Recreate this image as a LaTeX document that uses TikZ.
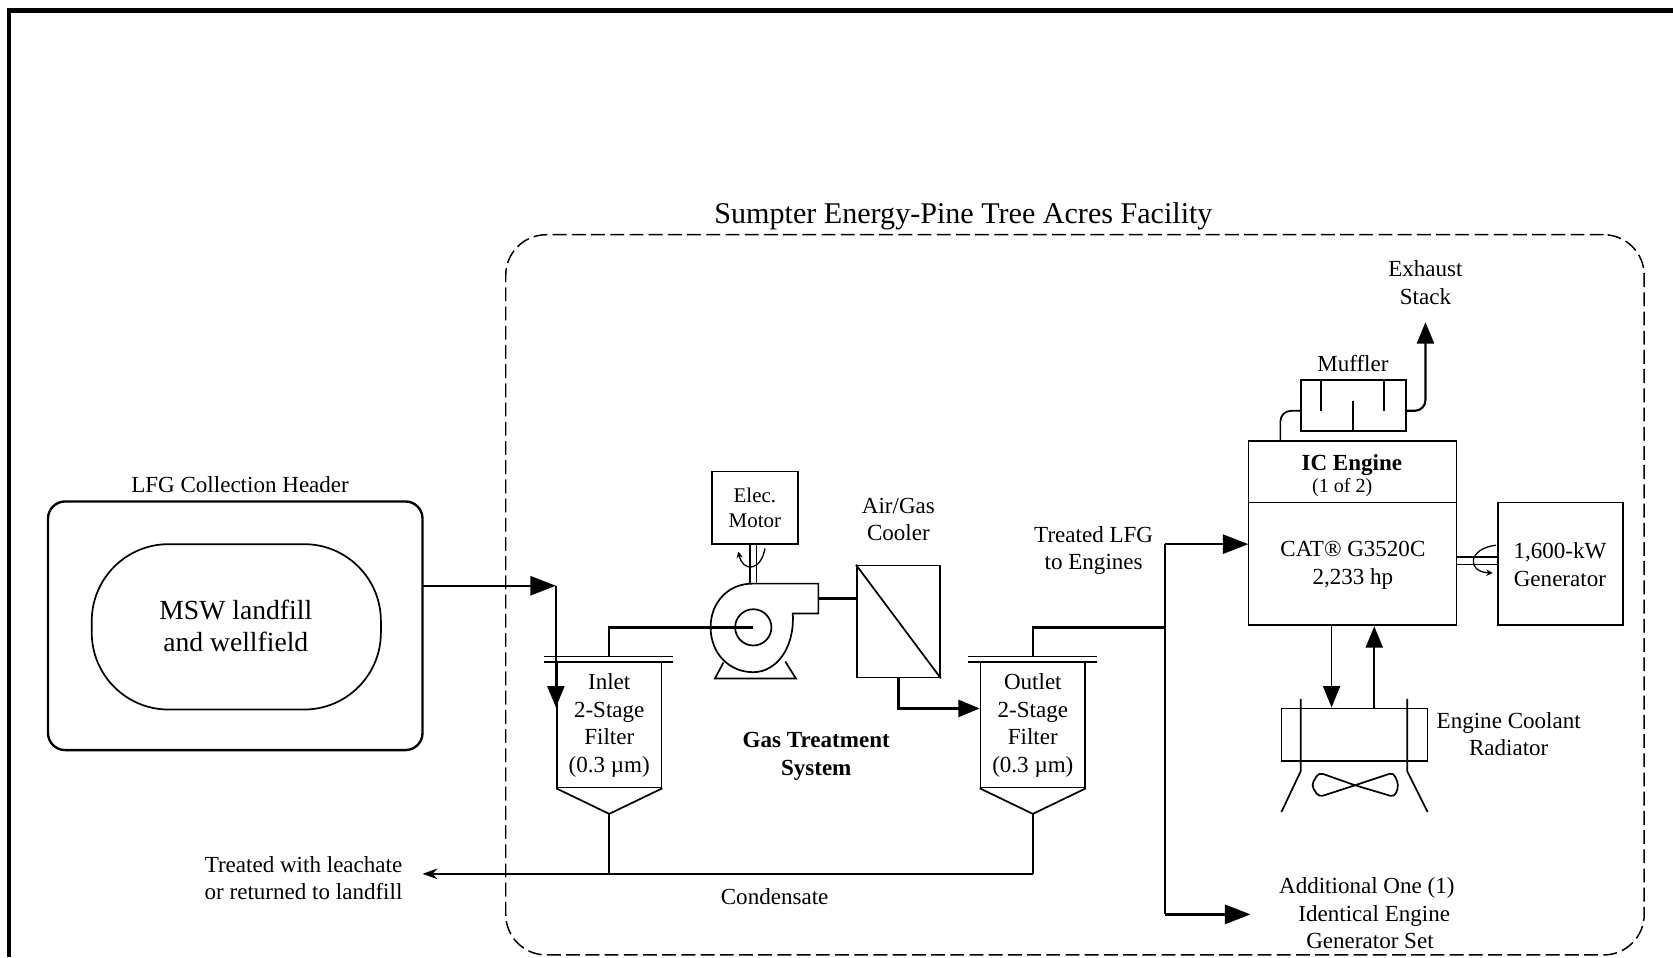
\documentclass[tikz,border=0pt]{standalone}
\usepackage{fontspec}
\setmainfont{Liberation Serif}
\usetikzlibrary{arrows.meta,positioning,fit}
\tikzset{
  label/.style={align=center,inner sep=0pt,font=\fontsize{10.8}{13}\selectfont},
  bold/.style={label,font=\fontsize{10.8}{13}\selectfont\bfseries},
  box/.style={draw,line width=.8pt,align=center,inner sep=0pt,font=\fontsize{10.8}{13}\selectfont},
  pipe/.style={line width=.8pt},
  feed/.style={line width=1.1pt},
  flow/.style={pipe,-{Triangle[length=10pt,width=8pt]}},
  trunk/.style={feed,-{Triangle[length=12pt,width=9pt]}},
  turn/.style={line width=.6pt,-{Stealth[length=3pt,width=3pt]}}
}
\begin{document}
\begin{tikzpicture}[x=.5pt,y=-.5pt]
  \useasboundingbox (0,0) rectangle (1568,897);
  \draw[line width=2.2pt] (8.5,897) -- (8.5,10) -- (1568,10);

  % facility and landfill
  \node[draw,dashed,dash pattern=on 6.5pt off 2.5pt,line width=.7pt,rounded corners=19pt,minimum width=533.5pt,minimum height=337.5pt] (facility) at (1007.5,557.5) {};
  \node[label,font=\fontsize{14.1}{16}\selectfont] (sumpter) at (903,203) {Sumpter Energy-Pine Tree Acres Facility};
  \node[box,line width=1.1pt,rounded corners=8pt,minimum width=175.5pt,minimum height=116.5pt] (header) at (220.5,586.5) {};
  \node[label] (headerlabel) at (225,454) {LFG Collection Header};
  \node[box,rounded corners=36pt,minimum width=135.5pt,minimum height=77.5pt] (landfill) at (221.5,587.5) {};
  \node[label,font=\fontsize{12.95}{15}\selectfont] (landfilltext) at (221,587) {MSW landfill\\and wellfield};
  \node[label] (leachate) at (284.5,823) {Treated with leachate\\or returned to landfill};
  \node[label] (condensate) at (726,840) {Condensate};

  % filters
  \node[box,minimum width=49pt,minimum height=58.5pt] (inlet) at (571,679.5) {};
  \node[box,minimum width=49pt,minimum height=58.5pt] (outlet) at (968,679.5) {};
  \node[label] (inlettext) at (571,680) {Inlet\\2-Stage\\Filter\\(0.3 µm)};
  \node[label] (outlettext) at (968,680) {Outlet\\2-Stage\\Filter\\(0.3 µm)};
  \foreach \f in {inlet,outlet}{
    \coordinate (\f tip) at ([yshift=-12pt]\f.south);
    \draw[pipe] (\f.south west) -- (\f tip) -- (\f.south east);
    \draw[pipe] ([xshift=-5.5pt]\f.north west) -- ([xshift=5pt]\f.north east);
    \draw[pipe] ([xshift=-5.5pt,yshift=2.5pt]\f.north west) -- ([xshift=5pt,yshift=2.5pt]\f.north east);
  }

  % blower and cooler
  \node[box,font=\fontsize{9.8}{11.5}\selectfont,minimum width=40.5pt,minimum height=34pt] (motor) at (707.5,476) {Elec.\\Motor};
  \node[draw,circle,line width=.8pt,minimum size=17pt,inner sep=0pt] (impeller) at (706,588) {};
  \coordinate (blowerout) at (767,561);
  \draw[pipe] (705,547) -- (767,547) -- (767,575) -- (743,575)
    .. controls (745,608) and (727,630) .. (706,630)
    .. controls (683,630) and (666,612) .. (666,588)
    .. controls (666,564) and (683,547) .. (705,547);
  \draw[pipe] (678,621) -- (670,636) -- (746,636) -- (736,620);
  \draw[pipe] (703,510) -- (703,547) (709,510) -- (709,547);
  \draw[turn] (717,514) .. controls (713,536) and (696,536) .. (692,517);
  \node[label] (coolerlabel) at (842,487) {Air/Gas\\Cooler};
  \node[box,minimum width=39pt,minimum height=52.5pt] (cooler) at (842,582.5) {};
  \draw[pipe] (cooler.north west) -- (cooler.south east);
  \node[bold] (treatment) at (765,709) {Gas Treatment\\System};
  \node[label] (lfglabel) at (1025,516) {Treated LFG\\to Engines};

  % engine set
  \node[box,minimum width=97.5pt,minimum height=86.5pt] (engine) at (1267.5,499.5) {};
  \draw[pipe] (1170,471) -- (1365,471);
  \node[bold] (iclabel) at (1267,436) {IC Engine};
  \node[label,font=\fontsize{9.4}{11}\selectfont] (oneoftwo) at (1258,457) {(1 of 2)};
  \node[label] (cat) at (1268,530) {CAT® G3520C\\2,233 hp};
  \node[box,minimum width=58.5pt,minimum height=57.5pt] (generator) at (1462.5,528.5) {};
  \node[label] (gentext) at (1462,529) {1,600-kW\\Generator};
  \draw[pipe] (1365,522) -- (1404,522) (1365,529) -- (1404,529);
  \draw[turn] (1402,511) .. controls (1376,514) and (1374,536) .. (1399,537);
  \node[box,minimum width=49.5pt,minimum height=24pt] (muffler) at (1268.5,380) {};
  \node[label] (mufflerlabel) at (1268,341) {Muffler};
  \draw[pipe] (1238,356) -- (1238,385) (1297,356) -- (1297,385) (1268,376) -- (1268,404);
  \node[label] (stack) at (1336,265) {Exhaust\\Stack};
  \coordinate (stacktip) at (1336,302);
  \node[box,minimum width=68.5pt,minimum height=24.5pt] (radiator) at (1269.5,688.5) {};
  \node[label] (radiatorlabel) at (1414,688) {Engine Coolant\\Radiator};
  \draw[pipe] (1219,655) -- (1219,723) -- (1201,761);
  \draw[pipe] (1319,655) -- (1319,723) -- (1338,761);
  \draw[pipe,rounded corners=2pt] (1270,736) -- (1236,724) -- (1229,736) -- (1236,747) -- (1270,736) -- (1306,724) -- (1311,736) -- (1307,747) -- cycle;
  \node[label] (additional) at (1281,856) {Additional One (1)\\\hspace*{7pt}Identical Engine\\\hspace*{3pt}Generator Set};

  % connectors
  \coordinate (hdrout) at (396,549);
  \coordinate (hdrturn) at (521,549);
  \coordinate (inletdrop) at (521,663);
  \coordinate (inletup) at (571,588);
  \coordinate (outletup) at (968,588);
  \coordinate (bus) at (1092,588);
  \coordinate (bustop) at (1092,510);
  \coordinate (busend) at (1092,857);
  \coordinate (engin) at (1170,510);
  \coordinate (addin) at (1172,857);
  \coordinate (drain) at (396,819);
  \coordinate (drainin) at (571,819);
  \coordinate (drainout) at (968,819);
  \coordinate (coolerbase) at (842,664);
  \draw[trunk] (hdrout) -- (hdrturn);
  \draw[flow,line width=1pt] (hdrturn) -- (inletdrop);
  \draw[feed] (inlet.north |- 0,616) -- (inletup) -- (impeller.center);
  \draw[feed] (blowerout) -- (cooler.west |- blowerout);
  \draw[flow,line width=1.1pt] (cooler.south) -- (coolerbase) -- (outlet.west |- coolerbase);
  \draw[feed] (outlet.north |- 0,616) -- (outletup) -- (bus);
  \draw[feed] (bustop) -- (busend);
  \draw[trunk] (bustop) -- (engin);
  \draw[trunk] (busend) -- (addin);
  \draw[pipe,rounded corners=5pt] (1200,413) -- (1200,385) -- (1219,385);
  \draw[flow,line width=1pt,rounded corners=5pt] (1318,385) -- (1336,385) -- (stacktip);
  \draw[flow] (1248,586) -- (1248,663);
  \draw[flow,line width=1pt] (1288,664) -- (1288,587);
  \draw[pipe] (inlettip) -- (drainin);
  \draw[pipe] (outlettip) -- (drainout);
  \draw[pipe,-{Stealth[length=7pt,width=5pt]}] (drainout) -- (drain);
\end{tikzpicture}
\end{document}
